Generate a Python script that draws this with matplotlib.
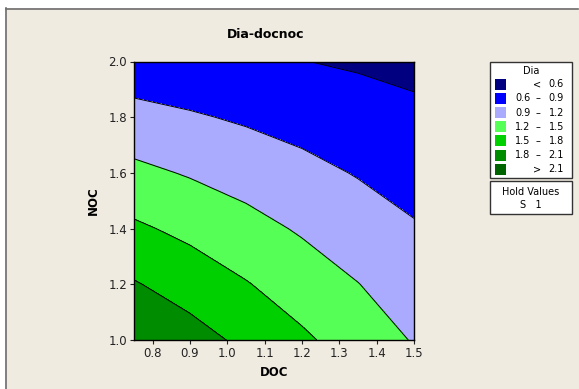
import numpy as np
import matplotlib
matplotlib.use("Agg")
import matplotlib.pyplot as plt
from matplotlib.patches import Rectangle

# ---- data ----
doc = [0.75, 0.90, 1.05, 1.20, 1.35, 1.50]
noc = [1.0, 1.2, 1.4, 1.6, 1.8, 2.0]
dia_row_10 = [2.097, 1.917, 1.736, 1.548, 1.367, 1.181]
dia_row_12 = [1.822, 1.673, 1.517, 1.357, 1.206, 1.053]
dia_row_14 = [1.548, 1.427, 1.299, 1.168, 1.044, 0.924]
dia_row_16 = [1.270, 1.176, 1.081, 0.982, 0.883, 0.793]
dia_row_18 = [0.995, 0.930, 0.863, 0.795, 0.725, 0.660]
dia_row_20 = [0.720, 0.686, 0.634, 0.605, 0.567, 0.528]
levels = [0.6, 0.9, 1.2, 1.5, 1.8, 2.1]
colors = ['#000080', '#0000FF', '#AAAAFF', '#55FF55', '#00D000', '#008C00', '#006400']
xticks = [0.8, 0.9, 1.0, 1.1, 1.2, 1.3, 1.4, 1.5]
yticks = [1.0, 1.2, 1.4, 1.6, 1.8, 2.0]
title = "Dia-docnoc"
xlabel = "DOC"
ylabel = "NOC"
legend_title = "Dia"
hold_title = "Hold Values"
hold_text = "S   1"

Z = np.array([dia_row_10, dia_row_12, dia_row_14, dia_row_16, dia_row_18, dia_row_20])
X, Y = np.meshgrid(doc, noc)

W, H = 579, 389
BG = '#F0EBE1'
fig = plt.figure(figsize=(W / 100, H / 100), dpi=100)
fig.patch.set_facecolor('white')

# overlay for frame / legend in pixel coordinates
ov = fig.add_axes([0, 0, 1, 1], zorder=0)
ov.set_xlim(0, W)
ov.set_ylim(H, 0)
ov.axis('off')
ov.add_patch(Rectangle((5, 8), W, H, facecolor=BG, edgecolor='none'))
ov.plot([5.5, 5.5], [8, H], color='#6E6E6E', lw=1.2)
ov.plot([5.5, W - 1], [8.5, 8.5], color='#6E6E6E', lw=1.2)

# main axes
ax = fig.add_axes([134 / W, (H - 340) / H, 280 / W, 278.5 / H], zorder=2)
bounds = [-10] + levels + [10]
ax.contourf(X, Y, Z, levels=bounds, colors=colors)
ax.contour(X, Y, Z, levels=levels, colors='black', linewidths=0.7)
ax.set_xlim(0.75, 1.5)
ax.set_ylim(1.0, 2.0)
ax.set_xticks(xticks)
ax.set_yticks(yticks)
ax.set_xticklabels([f"{v:.1f}" for v in xticks])
ax.set_yticklabels([f"{v:.1f}" for v in yticks])
ax.tick_params(direction='out', length=3, width=0.8, labelsize=8.5, pad=2, colors='#222222')
for s in ax.spines.values():
    s.set_linewidth(1.0)
ax.set_xlabel(xlabel, fontsize=8.5, fontweight='bold', labelpad=4)
ax.set_ylabel(ylabel, fontsize=8.5, fontweight='bold', labelpad=6)
fig.text(266 / W, 1 - 34 / H, title, ha='center', va='center', fontsize=9, fontweight='bold')

# legend box
ov2 = fig.add_axes([0, 0, 1, 1], zorder=3)
ov2.set_xlim(0, W)
ov2.set_ylim(H, 0)
ov2.axis('off')
ov2.add_patch(Rectangle((490, 62), 82, 115.5, facecolor='white', edgecolor='#333333', lw=1.0))
ov2.text(531, 71, legend_title, ha='center', va='center', fontsize=7)
labels = []
labels.append(("", "<", f"{levels[0]:.1f}"))
for lo, hi in zip(levels[:-1], levels[1:]):
    labels.append((f"{lo:.1f}", "\u2013", f"{hi:.1f}"))
labels.append(("", ">", f"{levels[-1]:.1f}"))
for i, (c, (lo, mid, hi)) in enumerate(zip(colors, labels)):
    yc = 84.3 + i * 14.15
    ov2.add_patch(Rectangle((495, yc - 5.5), 11, 11, facecolor=c, edgecolor='none'))
    if lo:
        ov2.text(523, yc, lo, ha='center', va='center', fontsize=7)
    ov2.text(537.5, yc, mid, ha='center', va='center', fontsize=7)
    ov2.text(564, yc, hi, ha='right', va='center', fontsize=7)

ov2.add_patch(Rectangle((490, 181), 82, 32.5, facecolor='white', edgecolor='#333333', lw=1.0))
ov2.text(531, 192, hold_title, ha='center', va='center', fontsize=7)
ov2.text(531, 205, hold_text, ha='center', va='center', fontsize=7)

fig.savefig('out.png', dpi=100, facecolor=fig.get_facecolor())
